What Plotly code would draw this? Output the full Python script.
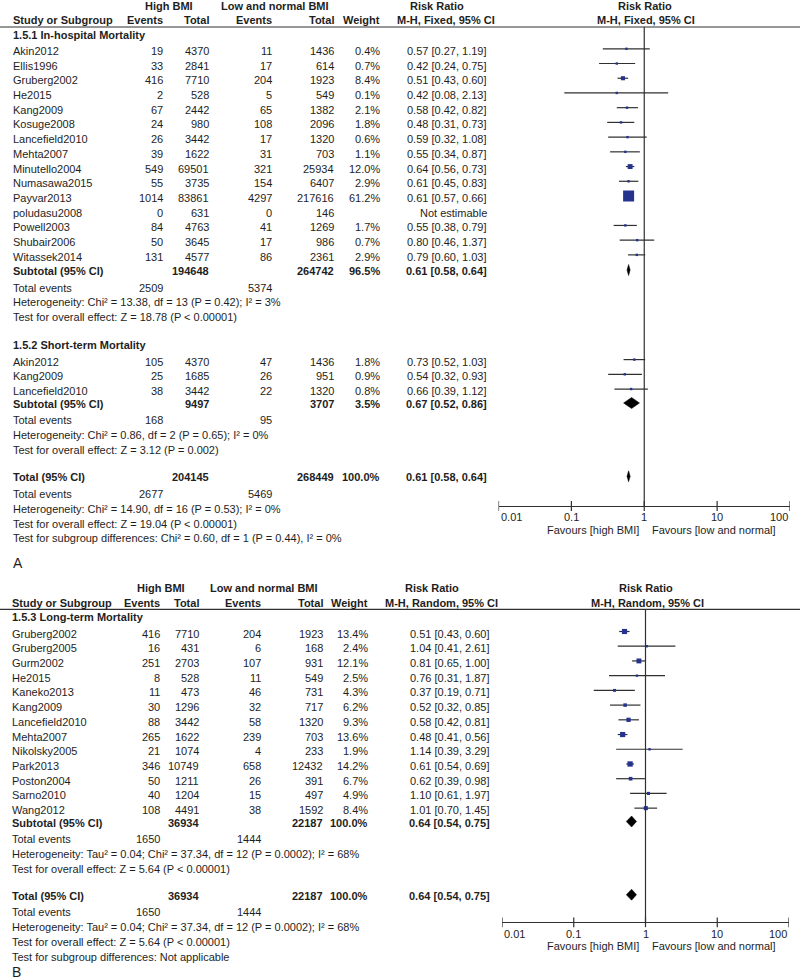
import math
import plotly.graph_objects as go

W, H = 800, 980
FONT = "Liberation Sans, Arial, sans-serif"
TXT = "#1e1e1e"
BLUE = "#25338F"
LINE = "#303030"

# ---------------- Panel A : 1.5.1 In-hospital Mortality ----------------
a1_studies = ["Akin2012", "Ellis1996", "Gruberg2002", "He2015", "Kang2009", "Kosuge2008",
              "Lancefield2010", "Mehta2007", "Minutello2004", "Numasawa2015", "Payvar2013",
              "poludasu2008", "Powell2003", "Shubair2006", "Witassek2014"]
a1_hi_events = [19, 33, 416, 2, 67, 24, 26, 39, 549, 55, 1014, 0, 84, 50, 131]
a1_hi_total = [4370, 2841, 7710, 528, 2442, 980, 3442, 1622, 69501, 3735, 83861, 631, 4763, 3645, 4577]
a1_lo_events = [11, 17, 204, 5, 65, 108, 17, 31, 321, 154, 4297, 0, 41, 17, 86]
a1_lo_total = [1436, 614, 1923, 549, 1382, 2096, 1320, 703, 25934, 6407, 217616, 146, 1269, 986, 2361]
a1_weight = [0.4, 0.7, 8.4, 0.1, 2.1, 1.8, 0.6, 1.1, 12.0, 2.9, 61.2, None, 1.7, 0.7, 2.9]
a1_rr = [0.57, 0.42, 0.51, 0.42, 0.58, 0.48, 0.59, 0.55, 0.64, 0.61, 0.61, None, 0.55, 0.80, 0.79]
a1_lo = [0.27, 0.24, 0.43, 0.08, 0.42, 0.31, 0.32, 0.34, 0.56, 0.45, 0.57, None, 0.38, 0.46, 0.60]
a1_hi = [1.19, 0.75, 0.60, 2.13, 0.82, 0.73, 1.08, 0.87, 0.73, 0.83, 0.66, None, 0.79, 1.37, 1.03]
a1_subtotal = dict(hi_total=194648, lo_total=264742, weight=96.5, rr=0.61, lo=0.58, hi=0.64,
                   hi_events=2509, lo_events=5374)
a1_het = "Heterogeneity: Chi² = 13.38, df = 13 (P = 0.42); I² = 3%"
a1_test = "Test for overall effect: Z = 18.78 (P < 0.00001)"

# ---------------- Panel A : 1.5.2 Short-term Mortality ----------------
a2_studies = ["Akin2012", "Kang2009", "Lancefield2010"]
a2_hi_events = [105, 25, 38]
a2_hi_total = [4370, 1685, 3442]
a2_lo_events = [47, 26, 22]
a2_lo_total = [1436, 951, 1320]
a2_weight = [1.8, 0.9, 0.8]
a2_rr = [0.73, 0.54, 0.66]
a2_lo = [0.52, 0.32, 0.39]
a2_hi = [1.03, 0.93, 1.12]
a2_subtotal = dict(hi_total=9497, lo_total=3707, weight=3.5, rr=0.67, lo=0.52, hi=0.86,
                   hi_events=168, lo_events=95)
a2_het = "Heterogeneity: Chi² = 0.86, df = 2 (P = 0.65); I² = 0%"
a2_test = "Test for overall effect: Z = 3.12 (P = 0.002)"

a_total = dict(hi_total=204145, lo_total=268449, weight=100.0, rr=0.61, lo=0.58, hi=0.64,
               hi_events=2677, lo_events=5469)
a_total_het = "Heterogeneity: Chi² = 14.90, df = 16 (P = 0.53); I² = 0%"
a_total_test = "Test for overall effect: Z = 19.04 (P < 0.00001)"
a_subgroup = "Test for subgroup differences: Chi² = 0.60, df = 1 (P = 0.44), I² = 0%"

# ---------------- Panel B : 1.5.3 Long-term Mortality ----------------
b_studies = ["Gruberg2002", "Gruberg2005", "Gurm2002", "He2015", "Kaneko2013", "Kang2009",
             "Lancefield2010", "Mehta2007", "Nikolsky2005", "Park2013", "Poston2004",
             "Sarno2010", "Wang2012"]
b_hi_events = [416, 16, 251, 8, 11, 30, 88, 265, 21, 346, 50, 40, 108]
b_hi_total = [7710, 431, 2703, 528, 473, 1296, 3442, 1622, 1074, 10749, 1211, 1204, 4491]
b_lo_events = [204, 6, 107, 11, 46, 32, 58, 239, 4, 658, 26, 15, 38]
b_lo_total = [1923, 168, 931, 549, 731, 717, 1320, 703, 233, 12432, 391, 497, 1592]
b_weight = [13.4, 2.4, 12.1, 2.5, 4.3, 6.2, 9.3, 13.6, 1.9, 14.2, 6.7, 4.9, 8.4]
b_rr = [0.51, 1.04, 0.81, 0.76, 0.37, 0.52, 0.58, 0.48, 1.14, 0.61, 0.62, 1.10, 1.01]
b_lo = [0.43, 0.41, 0.65, 0.31, 0.19, 0.32, 0.42, 0.41, 0.39, 0.54, 0.39, 0.61, 0.70]
b_hi = [0.60, 2.61, 1.00, 1.87, 0.71, 0.85, 0.81, 0.56, 3.29, 0.69, 0.98, 1.97, 1.45]
b_subtotal = dict(hi_total=36934, lo_total=22187, weight=100.0, rr=0.64, lo=0.54, hi=0.75,
                  hi_events=1650, lo_events=1444)
b_het = "Heterogeneity: Tau² = 0.04; Chi² = 37.34, df = 12 (P = 0.0002); I² = 68%"
b_test = "Test for overall effect: Z = 5.64 (P < 0.00001)"
b_total = dict(hi_total=36934, lo_total=22187, weight=100.0, rr=0.64, lo=0.54, hi=0.75,
               hi_events=1650, lo_events=1444)
b_subgroup = "Test for subgroup differences: Not applicable"

tick_vals = [0.01, 0.1, 1, 10, 100]
tick_text = ["0.01", "0.1", "1", "10", "100"]

# ---------------- helpers ----------------
ann = []
traces = []


def txt(x, y, s, anchor="left", bold=False, size=11, color=TXT):
    ann.append(dict(x=x / W, y=y, xref="paper", yref="y",
                    text=("<b>%s</b>" % s if bold else s), showarrow=False,
                    xanchor=anchor, yanchor="middle",
                    font=dict(size=size, color=color, family=FONT)))


def rr_str(r, l, h):
    return "%.2f [%.2f, %.2f]" % (r, l, h)


def square_size(w):
    return max(2.4, 11.0 * math.sqrt(w / 61.2))


def study_block(cols, ys, studies, he, ht, le, lt, wt, rr, lo, hi, xa):
    seg_x, seg_y = [], []
    sq_x, sq_y, sq_s = [], [], []
    for i, name in enumerate(studies):
        y = ys[i]
        txt(cols["study"], y, name)
        txt(cols["he"], y, str(he[i]), "right")
        txt(cols["ht"], y, str(ht[i]), "right")
        txt(cols["le"], y, str(le[i]), "right")
        txt(cols["lt"], y, str(lt[i]), "right")
        if wt[i] is None:
            txt(cols["rr"], y, "Not estimable", "right")
            continue
        txt(cols["w"], y, "%.1f%%" % wt[i], "right")
        txt(cols["rr"], y, rr_str(rr[i], lo[i], hi[i]), "right")
        my = y - 2
        seg_x += [lo[i], hi[i], None]
        seg_y += [my, my, None]
        sq_x.append(rr[i]); sq_y.append(my); sq_s.append(square_size(wt[i]))
    traces.append(go.Scatter(x=seg_x, y=seg_y, mode="lines", xaxis=xa, yaxis="y",
                             line=dict(color=LINE, width=1.2), hoverinfo="skip", showlegend=False))
    traces.append(go.Scatter(x=sq_x, y=sq_y, mode="markers", xaxis=xa, yaxis="y",
                             marker=dict(symbol="square", size=sq_s, color=BLUE, opacity=1,
                                         line=dict(width=0)),
                             hoverinfo="skip", showlegend=False))


def summary_row(cols, y, label, d, xa):
    txt(cols["study"], y, label, bold=True)
    txt(cols["ht"], y, str(d["hi_total"]), "right", bold=True)
    txt(cols["lt"], y, str(d["lo_total"]), "right", bold=True)
    txt(cols["w"], y, "%.1f%%" % d["weight"], "right", bold=True)
    txt(cols["rr"], y, rr_str(d["rr"], d["lo"], d["hi"]), "right", bold=True)
    my = y - 1
    hh = 5.5
    traces.append(go.Scatter(x=[d["lo"], d["rr"], d["hi"], d["rr"], d["lo"]],
                             y=[my, my - hh, my, my + hh, my], mode="lines", fill="toself",
                             fillcolor="black", line=dict(color="black", width=0.5),
                             xaxis=xa, yaxis="y", hoverinfo="skip", showlegend=False))


def events_row(cols, y, d):
    txt(cols["study"], y, "Total events")
    txt(cols["he"], y, str(d["hi_events"]), "right")
    txt(cols["le"], y, str(d["lo_events"]), "right")


def header(cols, y1, y2, method):
    txt(cols["hbmi"], y1, "High BMI", "center", bold=True)
    txt(cols["lbmi"], y1, "Low and normal BMI", "center", bold=True)
    txt(cols["rrh1"], y1, "Risk Ratio", "center", bold=True)
    txt(cols["rrh2"], y1, "Risk Ratio", "center", bold=True)
    txt(cols["study"], y2, "Study or Subgroup", bold=True)
    txt(cols["he"], y2, "Events", "right", bold=True)
    txt(cols["ht"], y2, "Total", "right", bold=True)
    txt(cols["le"], y2, "Events", "right", bold=True)
    txt(cols["lt"], y2, "Total", "right", bold=True)
    txt(cols["w"], y2, "Weight", "right", bold=True)
    txt(cols["mh1"], y2, method, "center", bold=True)
    txt(cols["mh2"], y2, method, "center", bold=True)


def forest_axis(xa, y_top, y_axis, y_lab, y_fav, fav_l, fav_r):
    traces.append(go.Scatter(x=[1, 1], y=[y_top, y_axis], mode="lines", xaxis=xa, yaxis="y",
                             line=dict(color=LINE, width=1.2), hoverinfo="skip", showlegend=False))
    traces.append(go.Scatter(x=tick_vals, y=[y_axis] * len(tick_vals), mode="markers",
                             xaxis=xa, yaxis="y",
                             marker=dict(symbol="line-ns", size=7, line=dict(color=LINE, width=1.2)),
                             hoverinfo="skip", showlegend=False))
    xref = "x" if xa == "x" else "x2"
    for i, (v, t) in enumerate(zip(tick_vals, tick_text)):
        anc = "left" if i == 0 else ("right" if i == len(tick_vals) - 1 else "center")
        ann.append(dict(x=math.log10(v), y=y_lab, xref=xref, yref="y", text=t, showarrow=False,
                        xanchor=anc, yanchor="middle", font=dict(size=11, color=TXT, family=FONT)))
    txt(fav_l, y_fav, "Favours [high BMI]", "right")
    txt(fav_r, y_fav, "Favours [low and normal]", "left")


shapes = []

# ---------------- Panel A layout ----------------
STEP = 14.72
colsA = dict(study=11, he=164.5, ht=211, le=274, lt=336, w=382, rr=489.5,
             hbmi=169, lbmi=275, rrh1=437, rrh2=645, mh1=446, mh2=646)
header(colsA, 6, 19.5, "M-H, Fixed, 95% CI")
shapes.append(dict(type="line", xref="paper", yref="y", x0=0, x1=1, y0=27, y1=27,
                   line=dict(color=LINE, width=1.2)))
txt(colsA["study"], 34.5, "1.5.1 In-hospital Mortality", bold=True)
ysA1 = [50.8 + i * STEP for i in range(len(a1_studies))]
study_block(colsA, ysA1, a1_studies, a1_hi_events, a1_hi_total, a1_lo_events, a1_lo_total,
            a1_weight, a1_rr, a1_lo, a1_hi, "x")
summary_row(colsA, 271, "Subtotal (95% CI)", a1_subtotal, "x")
events_row(colsA, 287.5, a1_subtotal)
txt(colsA["study"], 302.3, a1_het)
txt(colsA["study"], 317, a1_test)

txt(colsA["study"], 345, "1.5.2 Short-term Mortality", bold=True)
ysA2 = [361.6 + i * STEP for i in range(len(a2_studies))]
study_block(colsA, ysA2, a2_studies, a2_hi_events, a2_hi_total, a2_lo_events, a2_lo_total,
            a2_weight, a2_rr, a2_lo, a2_hi, "x")
summary_row(colsA, 404, "Subtotal (95% CI)", a2_subtotal, "x")
events_row(colsA, 420.3, a2_subtotal)
txt(colsA["study"], 435, a2_het)
txt(colsA["study"], 449.7, a2_test)

summary_row(colsA, 477.3, "Total (95% CI)", a_total, "x")
events_row(colsA, 494, a_total)
txt(colsA["study"], 509, a_total_het)
txt(colsA["study"], 523.7, a_total_test)
txt(colsA["study"], 538, a_subgroup)
txt(11, 563, "A", size=14)
forest_axis("x", 27, 506, 517, 529.5, 640.5, 649.5)

# ---------------- Panel B layout ----------------
colsB = dict(study=10, he=162, ht=201, le=263, lt=325, w=370, rr=492,
             hbmi=160.5, lbmi=264, rrh1=432, rrh2=645.5, mh1=441, mh2=647)
header(colsB, 588.3, 602.7, "M-H, Random, 95% CI")
shapes.append(dict(type="line", xref="paper", yref="y", x0=0, x1=1, y0=609.3, y1=609.3,
                   line=dict(color=LINE, width=1.2)))
txt(colsB["study"], 617, "1.5.3 Long-term Mortality", bold=True)
ysB = [633.5 + i * STEP for i in range(len(b_studies))]
study_block(colsB, ysB, b_studies, b_hi_events, b_hi_total, b_lo_events, b_lo_total,
            b_weight, b_rr, b_lo, b_hi, "x2")
summary_row(colsB, 822.5, "Subtotal (95% CI)", b_subtotal, "x2")
events_row(colsB, 839.3, b_subtotal)
txt(colsB["study"], 854, b_het)
txt(colsB["study"], 869, b_test)
summary_row(colsB, 895.7, "Total (95% CI)", b_total, "x2")
events_row(colsB, 912, b_total)
txt(colsB["study"], 927, b_het)
txt(colsB["study"], 942, b_test)
txt(colsB["study"], 956.5, b_subgroup)
txt(10, 972, "B", size=14)
forest_axis("x2", 609.3, 922.3, 933.5, 946, 641, 650)

fig = go.Figure(data=traces)
axis_common = dict(type="log", range=[-2, 2], showgrid=False, zeroline=False, showticklabels=False,
                   ticks="", showline=True, linecolor=LINE, linewidth=1.2, anchor="free")
fig.update_layout(
    width=W, height=H, margin=dict(l=0, r=0, t=0, b=0),
    paper_bgcolor="white", plot_bgcolor="rgba(0,0,0,0)",
    showlegend=False,
    xaxis=dict(domain=[498.5 / W, 790 / W], position=1 - 506 / H, **axis_common),
    xaxis2=dict(domain=[502 / W, 789 / W], position=1 - 922.3 / H, **axis_common),
    yaxis=dict(domain=[0, 1], range=[H, 0], visible=False, fixedrange=True),
    annotations=ann, shapes=shapes,
    font=dict(family=FONT, size=11, color=TXT),
)
fig.write_html("out.html", config={"displayModeBar": False},
               post_script="document.body.style.margin='0';document.body.style.overflow='hidden';")
